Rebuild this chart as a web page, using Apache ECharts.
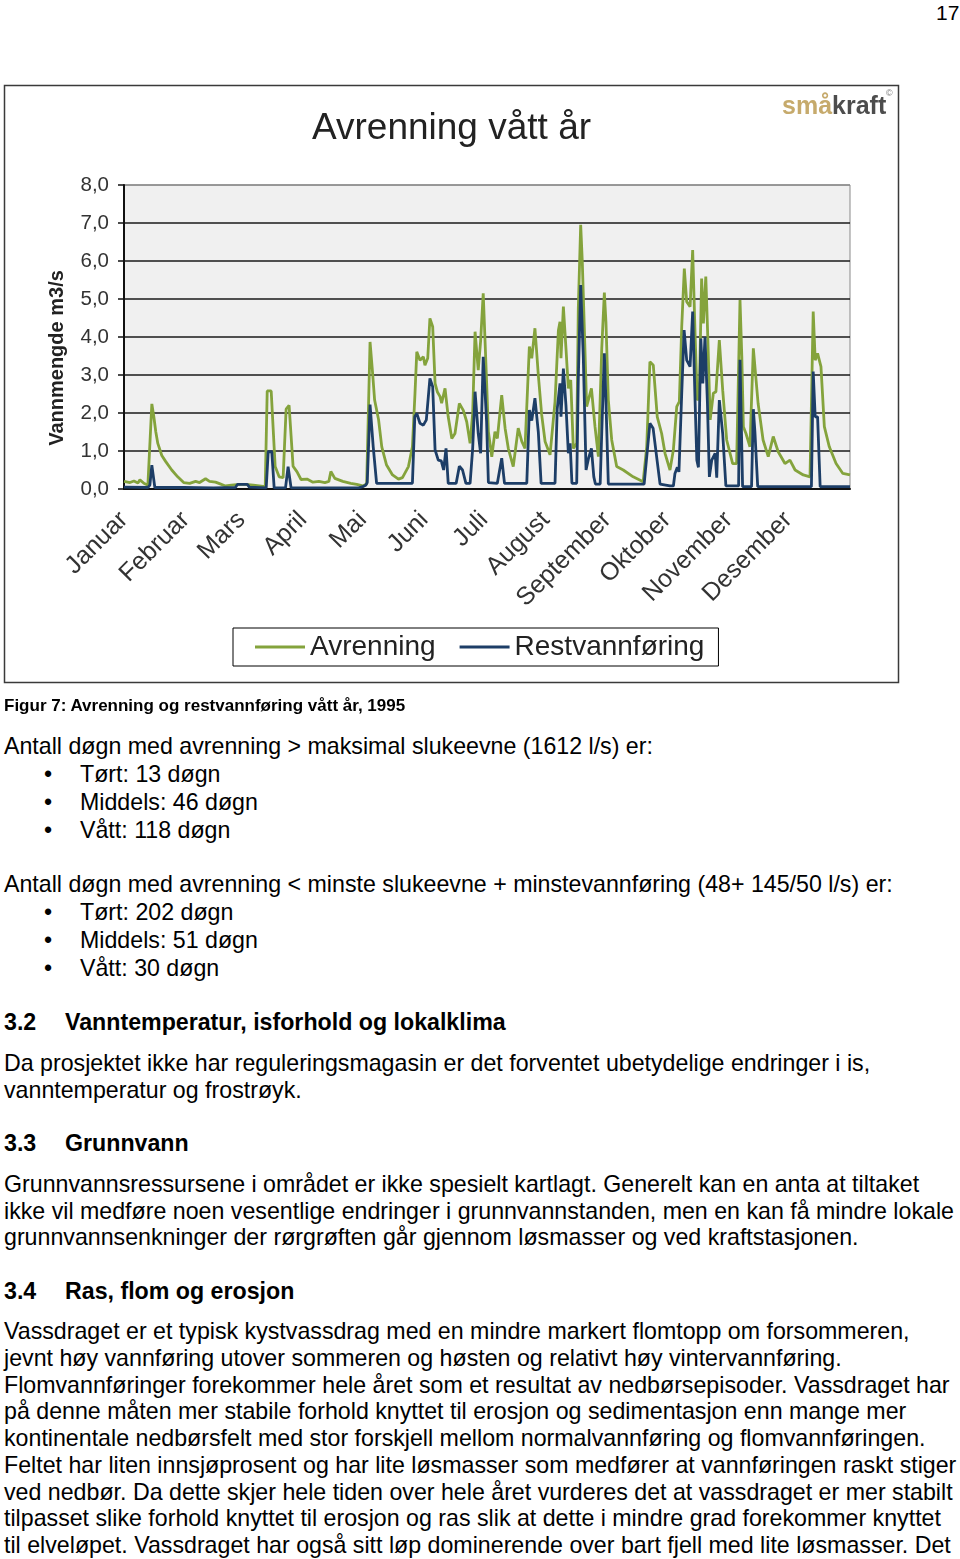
<!DOCTYPE html>
<html>
<head>
<meta charset="utf-8">
<script src="https://cdn.jsdelivr.net/npm/echarts@6/dist/echarts.min.js"></script>
<style>
  html, body { margin: 0; padding: 0; background: #fff; }
  body { width: 960px; height: 1559px; position: relative; overflow: hidden;
         font-family: "Liberation Sans", Arial, sans-serif; color: #000; }
  #chart { position: absolute; left: 0; top: 0; width: 960px; height: 700px; }
  .ln { position: absolute; white-space: nowrap; font-size: 23.2px; line-height: 26px; height: 26px; }
  .b { font-weight: bold; }
  .cap { font-size: 17px; font-weight: bold; }
  .bul { position: absolute; left: 44px; }
  .bt { position: absolute; left: 80px; }
</style>
</head>
<body>
<div class="ln" style="left:936px; top:0px; font-size:21px;">17</div>
<div id="chart"></div>

<div class="ln cap" style="left:4px; top:693px;">Figur 7: Avrenning og restvannføring vått år, 1995</div>

<div class="ln" style="left:4px; top:733px;">Antall døgn med avrenning &gt; maksimal slukeevne (1612 l/s) er:</div>
<div class="ln" style="left:0; top:761px; width:960px;"><span class="bul">•</span><span class="bt">Tørt: 13 døgn</span></div>
<div class="ln" style="left:0; top:789px; width:960px;"><span class="bul">•</span><span class="bt">Middels: 46 døgn</span></div>
<div class="ln" style="left:0; top:817px; width:960px;"><span class="bul">•</span><span class="bt">Vått: 118 døgn</span></div>

<div class="ln" style="left:4px; top:871px;">Antall døgn med avrenning &lt; minste slukeevne + minstevannføring (48+ 145/50 l/s) er:</div>
<div class="ln" style="left:0; top:899px; width:960px;"><span class="bul">•</span><span class="bt">Tørt: 202 døgn</span></div>
<div class="ln" style="left:0; top:927px; width:960px;"><span class="bul">•</span><span class="bt">Middels: 51 døgn</span></div>
<div class="ln" style="left:0; top:955px; width:960px;"><span class="bul">•</span><span class="bt">Vått: 30 døgn</span></div>

<div class="ln b" style="left:4px; top:1009px;">3.2</div>
<div class="ln b" style="left:65px; top:1009px;">Vanntemperatur, isforhold og lokalklima</div>
<div class="ln" style="left:4px; top:1050px;">Da prosjektet ikke har reguleringsmagasin er det forventet ubetydelige endringer i is,</div>
<div class="ln" style="left:4px; top:1077px;">vanntemperatur og frostrøyk.</div>

<div class="ln b" style="left:4px; top:1130px;">3.3</div>
<div class="ln b" style="left:65px; top:1130px;">Grunnvann</div>
<div class="ln" style="left:4px; top:1171px;">Grunnvannsressursene i området er ikke spesielt kartlagt. Generelt kan en anta at tiltaket</div>
<div class="ln" style="left:4px; top:1198px;">ikke vil medføre noen vesentlige endringer i grunnvannstanden, men en kan få mindre lokale</div>
<div class="ln" style="left:4px; top:1224px;">grunnvannsenkninger der rørgrøften går gjennom løsmasser og ved kraftstasjonen.</div>

<div class="ln b" style="left:4px; top:1278px;">3.4</div>
<div class="ln b" style="left:65px; top:1278px;">Ras, flom og erosjon</div>
<div class="ln" style="left:4px; top:1318px;">Vassdraget er et typisk kystvassdrag med en mindre markert flomtopp om forsommeren,</div>
<div class="ln" style="left:4px; top:1345px;">jevnt høy vannføring utover sommeren og høsten og relativt høy vintervannføring.</div>
<div class="ln" style="left:4px; top:1372px;">Flomvannføringer forekommer hele året som et resultat av nedbørsepisoder. Vassdraget har</div>
<div class="ln" style="left:4px; top:1398px;">på denne måten mer stabile forhold knyttet til erosjon og sedimentasjon enn mange mer</div>
<div class="ln" style="left:4px; top:1425px;">kontinentale nedbørsfelt med stor forskjell mellom normalvannføring og flomvannføringen.</div>
<div class="ln" style="left:4px; top:1452px;">Feltet har liten innsjøprosent og har lite løsmasser som medfører at vannføringen raskt stiger</div>
<div class="ln" style="left:4px; top:1479px;">ved nedbør. Da dette skjer hele tiden over hele året vurderes det at vassdraget er mer stabilt</div>
<div class="ln" style="left:4px; top:1505px;">tilpasset slike forhold knyttet til erosjon og ras slik at dette i mindre grad forekommer knyttet</div>
<div class="ln" style="left:4px; top:1532px;">til elveløpet. Vassdraget har også sitt løp dominerende over bart fjell med lite løsmasser. Det</div>

<script>
// ---- data ----
var months = ['Januar','Februar','Mars','April','Mai','Juni','Juli','August','September','Oktober','November','Desember'];
var monthStartDays = [0,31,59,90,120,151,181,212,243,273,304,334];
var seriesNames = ['Avrenning','Restvannføring'];
var yTicks = [0,1,2,3,4,5,6,7,8];

// [day of year, m3/s]
var avrenning = [
[0,0.2],[3,0.17],[5,0.21],[7,0.16],[8,0.24],[10,0.15],[12,0.1],[13,0.15],[14,2.24],[15,1.9],[16,1.5],[17,1.2],[19,0.88],[21,0.72],[24,0.5],[27,0.32],[30,0.17],[33,0.15],[36,0.2],[38,0.17],[41,0.27],[43,0.2],[46,0.18],[48,0.14],[51,0.08],[54,0.1],[58,0.12],[61,0.12],[65,0.1],[68,0.08],[71,0.06],
[72,2.58],[74,2.58],[76,0.59],[78,0.32],[80,0.3],[81.5,2.1],[83,2.2],[85,0.6],[87,0.45],[89,0.25],[92,0.26],[95,0.18],[98,0.2],[101,0.17],[103,0.2],[104,0.46],[106,0.28],[110,0.2],[114,0.15],[117,0.12],[120,0.08],[122,0.13],
[123.7,3.87],[125,3.04],[126,2.34],[128,1.82],[129.6,1.11],[132,0.63],[135,0.37],[138,0.26],[140,0.3],[143,0.59],[145,1.11],[146.3,2.52],[147.2,3.61],[148.8,3.39],[150.5,3.48],[151.3,3.26],[152.7,3.44],[153.8,4.49],[155.2,4.27],[156.4,2.78],[157.5,2.56],[158.9,2.43],[159.7,2.26],[161.4,2.65],[163,1.9],[164.8,1.33],[166.4,1.46],[168.6,2.25],[170.6,2.07],[172.3,1.77],[174,1.2],[175.3,1.99],[176.5,4.14],[178.1,3.13],[179.3,3.9],[180.6,5.15],[182.3,2.82],[183.2,1.51],[184.9,0.85],[186.5,1.51],[187.7,1.33],[189.9,2.47],[191.6,1.6],[193.2,1.07],[195.7,0.59],[198.2,1.6],[200,1.25],[201.6,1.07],[203.8,3.75],[205,3.44],[206.6,4.23],[208.3,3.0],[210,1.95],[211.7,1.25],[214.2,0.9],[216.7,2.3],[218.4,4.18],[219.2,4.4],[219.7,3.44],[220.9,4.8],[222.2,3.7],[223.4,2.65],[224.6,2.87],[225.9,1.07],[227.6,1.2],[228.4,4.75],[229.6,6.95],[230.4,6.0],[231,4.97],[232.6,2.17],[235,2.65],[236.8,1.64],[238.5,0.85],[240.2,3.7],[241.5,5.17],[242.3,4.4],[243.5,2.34],[245.2,1.29],[247.7,0.59],[251,0.5],[256,0.32],[261,0.19],[262.8,1.11],[264.4,3.35],[266.1,3.26],[268.1,1.9],[270.3,1.46],[272,0.94],[274.5,0.5],[276.2,1.03],[277.9,2.17],[279.2,2.3],[280.4,4.27],[281.7,5.8],[282.9,4.93],[284.6,4.8],[285.9,6.29],[287.1,4.1],[288.2,2.34],[289.2,2.4],[290.4,5.54],[291.3,4.36],[292.5,5.59],[293.5,4.0],[294.7,1.82],[296.3,2.52],[297.6,2.56],[299.3,3.92],[301,2.6],[303,1.29],[306,0.67],[308,0.67],[309.7,4.97],[310.6,3.5],[311.4,1.64],[312.7,1.46],[314.7,1.11],[316.4,3.7],[318.8,2.25],[321.3,1.29],[323.9,0.85],[326.4,1.38],[328.9,0.98],[332.3,0.67],[334.8,0.76],[337.4,0.5],[341.5,0.37],[344.9,0.32],[346.5,4.67],[347.5,3.39],[348.7,3.57],[350.4,3.22],[352.1,1.64],[354.6,1.11],[358,0.67],[361.4,0.41],[365,0.37]
];

var restvannforing = [
[0,0.05],[12,0.04],[13,0.1],[14,0.63],[15.5,0.04],[30,0.04],[45,0.03],[56,0.04],[57,0.12],[62,0.12],[63,0.05],[71.5,0.03],[72.5,0.98],[74.3,0.98],[75.5,0.03],[81.2,0.03],[82.5,0.59],[84,0.03],[118,0.03],[120,0.06],[121.5,0.1],[122.3,0.17],[123.7,2.22],[125.3,1.11],[127,0.15],[145,0.15],[146.2,1.9],[147.2,1.99],[148.8,1.73],[150.5,1.68],[152,1.82],[153.8,2.91],[155.2,2.69],[156.4,1.03],[158,0.76],[159.5,0.74],[160.7,0.5],[161.9,1.07],[163,0.15],[167,0.15],[168.6,0.6],[170.2,0.5],[171.9,0.15],[174,0.15],[175.3,1.07],[176.5,2.56],[178.1,1.46],[179.3,0.94],[180.6,3.48],[182.3,1.77],[183.2,0.17],[187.7,0.15],[189.9,0.81],[191.3,0.15],[202.5,0.15],[203.8,2.08],[205,1.8],[206.6,2.39],[208.3,1.5],[209.7,0.15],[216.7,0.15],[217.8,2.1],[219.2,2.78],[219.7,1.9],[220.9,3.17],[222.2,2.2],[223.4,0.94],[224.3,1.2],[225.2,0.15],[227.6,0.15],[228.4,2.9],[229.6,5.37],[230.9,3.5],[232.3,0.5],[233.5,0.8],[235,1.07],[236.2,0.32],[237,0.13],[239.4,0.13],[240.2,1.5],[241.5,3.57],[242.3,2.3],[243.5,0.13],[261.5,0.13],[264.4,1.73],[266,1.6],[268,0.76],[269.5,0.13],[274.5,0.08],[276.2,0.08],[277,0.41],[278.2,0.57],[279,0.45],[280.4,2.52],[281.6,4.18],[282.9,3.39],[284.6,3.22],[285.9,4.67],[287.1,2.34],[288,0.76],[288.8,0.57],[290,3.96],[291,2.78],[292.1,4.0],[293.3,2.3],[294.3,0.32],[295.5,0.76],[297.2,0.94],[298,0.3],[299.3,2.34],[301,1.46],[302.6,0.08],[309,0.08],[309.7,3.4],[311,0.06],[315.5,0.06],[316.4,2.1],[317.2,1.5],[318.6,0.06],[345.6,0.06],[346.5,3.09],[347.5,1.9],[348.7,1.9],[350,0.06],[365,0.06]
];

// ---- chart ----
var FONT = '"Liberation Sans", Arial, sans-serif';
var chart = echarts.init(document.getElementById('chart'), null, { renderer: 'canvas' });
var splitColors = yTicks.map(function (t, i) { return i === yTicks.length - 1 ? '#8a8a8a' : '#1a1a1a'; });

chart.setOption({
  animation: false,
  backgroundColor: 'transparent',
  title: {
    text: 'Avrenning vått år',
    left: 312, top: 110, padding: 0,
    textStyle: { fontFamily: FONT, fontSize: 37, fontWeight: 'normal', color: '#222' }
  },
  graphic: [
    { type: 'rect', z: -10, shape: { x: 4.5, y: 85.5, width: 894, height: 597 },
      style: { fill: '#fff', stroke: '#3a3a3a', lineWidth: 1.5 } },
    { type: 'text', x: 782, y: 95,
      style: { text: '{a|små}{b|kraft}', rich: {
        a: { fontFamily: FONT, fontSize: 25, fontWeight: 'bold', fill: '#c6aa6c' },
        b: { fontFamily: FONT, fontSize: 25, fontWeight: 'bold', fill: '#4d4d4d' } } } },
    { type: 'text', x: 886, y: 89, style: { text: '©', fontFamily: FONT, fontSize: 9, fill: '#777' } }
  ],
  legend: {
    data: seriesNames,
    left: 233, top: 628,
    orient: 'horizontal',
    icon: 'rect', itemWidth: 50, itemHeight: 3, itemGap: 24,
    padding: [5, 14, 5, 22],
    borderColor: '#000', borderWidth: 1,
    textStyle: { fontFamily: FONT, fontSize: 28, color: '#222' }
  },
  grid: {
    left: 124, top: 185, width: 726, height: 304,
    show: true, backgroundColor: '#f0f0f0', borderColor: '#8a8a8a', borderWidth: 1,
    containLabel: false, outerBoundsMode: 'none'
  },
  xAxis: {
    type: 'value', min: 0, max: 365,
    axisLine: { show: true, onZero: false, lineStyle: { color: '#111', width: 2 } },
    axisTick: { show: false },
    splitLine: { show: false },
    axisLabel: {
      customValues: monthStartDays,
      rotate: 45, margin: 27,
      fontFamily: FONT, fontSize: 25, color: '#333',
      hideOverlap: false,
      formatter: function (v) { var i = monthStartDays.indexOf(v); return i >= 0 ? months[i] : ''; }
    }
  },
  yAxis: {
    type: 'value', min: 0, max: 8, interval: 1,
    name: 'Vannmengde m3/s', nameLocation: 'middle', nameRotate: 90, nameGap: 57,
    nameTextStyle: { fontFamily: FONT, fontSize: 20, fontWeight: 'bold', color: '#222', padding: [0, 42, 0, 0] },
    axisLine: { show: true, lineStyle: { color: '#111', width: 2 } },
    axisTick: { show: true, inside: false, length: 6, lineStyle: { color: '#111', width: 1.5 } },
    splitLine: { show: true, lineStyle: { color: splitColors, width: 1.5 } },
    axisLabel: {
      margin: 15, fontFamily: FONT, fontSize: 20.5, color: '#333',
      formatter: function (v) { return v.toFixed(1).replace('.', ','); }
    }
  },
  series: [
    { name: seriesNames[0], type: 'line', data: avrenning, showSymbol: false, symbol: 'none',
      lineStyle: { color: '#84a33c', width: 2.8 }, itemStyle: { color: '#84a33c' }, z: 2 },
    { name: seriesNames[1], type: 'line', data: restvannforing, showSymbol: false, symbol: 'none',
      lineStyle: { color: '#1d3e67', width: 2.8 }, itemStyle: { color: '#1d3e67' }, z: 3 }
  ]
});
</script>
</body>
</html>
